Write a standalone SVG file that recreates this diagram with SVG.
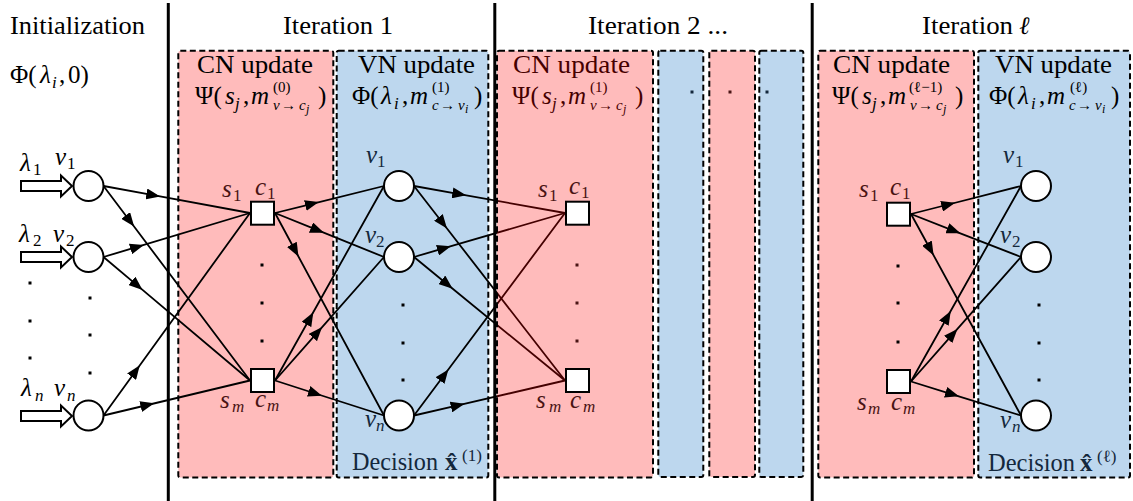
<svg xmlns="http://www.w3.org/2000/svg" width="1133" height="501" viewBox="0 0 1133 501">
<defs>
<marker id="ah" viewBox="0 0 14 11" refX="7" refY="5.5" markerWidth="14" markerHeight="11" markerUnits="userSpaceOnUse" orient="auto"><path d="M0,0 L14,5.5 L0,11 z" fill="#000"/></marker>
<style>
text{font-family:'Liberation Serif','DejaVu Serif',serif;fill:#000}
.t{font-size:25px}
.i{font-style:italic}
.u{font-style:normal}
.s{font-size:17px}
.f{font-size:15px}
.ss{font-size:12px}
.sep{stroke:#000;stroke-width:3}
.box{stroke:#000;stroke-width:2;stroke-dasharray:6 3.5;fill:none}
.pk{fill:#ffbbbb}
.bl{fill:#bdd7ee}
.ov{fill:#ff0000;fill-opacity:0.265}
.e{fill:none;stroke:#000;stroke-width:1.8;marker-mid:url(#ah)}
.node{fill:#fff;stroke:#000;stroke-width:2}
.dot{fill:#000}
.lp{fill:#4a1414}
.lb{fill:#14283c}
</style>
</defs>

<g id="separators">
<line class="sep" x1="168.3" y1="3" x2="168.3" y2="501"/>
<line class="sep" x1="494.8" y1="3" x2="494.8" y2="501"/>
<line class="sep" x1="812.2" y1="3" x2="812.2" y2="501"/>
</g>

<g id="boxes">
<rect class="pk" x="178.3" y="50.7" width="155" height="426.8" rx="2"/>
<rect class="box" x="178.3" y="50.7" width="155" height="426.8" rx="2"/>
<rect class="bl" x="336.7" y="50.7" width="151.6" height="426.8" rx="2"/>
<rect class="box" x="336.7" y="50.7" width="151.6" height="426.8" rx="2"/>
<rect class="bl" x="658.3" y="50.7" width="45" height="426.3" rx="2"/>
<rect class="box" x="658.3" y="50.7" width="45" height="426.3" rx="2"/>
<rect class="pk" x="709.3" y="50.7" width="45.7" height="426.3" rx="2"/>
<rect class="box" x="709.3" y="50.7" width="45.7" height="426.3" rx="2"/>
<rect class="bl" x="759.3" y="50.7" width="44" height="426.3" rx="2"/>
<rect class="box" x="759.3" y="50.7" width="44" height="426.3" rx="2"/>
<rect class="pk" x="818.3" y="50.7" width="155.7" height="426.8" rx="2"/>
<rect class="box" x="818.3" y="50.7" width="155.7" height="426.8" rx="2"/>
<rect class="bl" x="978.3" y="50.7" width="151.7" height="426.8" rx="2"/>
<rect class="box" x="978.3" y="50.7" width="151.7" height="426.8" rx="2"/>
<rect class="lb" x="690.5" y="90.5" width="3" height="3"/>
<rect class="lp" x="728.5" y="90.5" width="3" height="3"/>
<rect class="lb" x="765.5" y="90.5" width="3" height="3"/>
</g>

<g id="headers">
<text class="t" x="10" y="34" textLength="135" lengthAdjust="spacingAndGlyphs">Initialization</text>
<text class="t" y="83"><tspan x="10">Φ(</tspan><tspan x="40" class="i">λ</tspan><tspan x="52" y="88" class="s i">i</tspan><tspan x="59" y="83">,</tspan><tspan x="68">0)</tspan></text>
<text class="t" x="283" y="34" textLength="110" lengthAdjust="spacingAndGlyphs">Iteration 1</text>
<text class="t" x="588" y="34" textLength="140" lengthAdjust="spacingAndGlyphs">Iteration 2 ...</text>
<text class="t" x="922" y="34"><tspan textLength="91" lengthAdjust="spacingAndGlyphs">Iteration</tspan><tspan x="1019" class="i">ℓ</tspan></text>

<text class="t" x="197" y="73" textLength="116" lengthAdjust="spacingAndGlyphs">CN update</text>
<text class="t" y="104"><tspan x="195">Ψ(</tspan><tspan x="225" class="i">s</tspan><tspan x="235" y="109" class="s i">j</tspan><tspan x="243" y="104">,</tspan><tspan x="251" class="i">m</tspan><tspan x="273" y="92" class="f">(0)</tspan><tspan x="273" y="110" class="f i">v</tspan><tspan x="281" class="f">→</tspan><tspan x="299" class="f i">c</tspan><tspan x="306" y="113" class="ss i">j</tspan><tspan x="318" y="104">)</tspan></text>

<text class="t" x="358" y="73" textLength="117" lengthAdjust="spacingAndGlyphs">VN update</text>
<text class="t" y="104"><tspan x="352">Φ(</tspan><tspan x="381" class="i">λ</tspan><tspan x="394" y="109" class="s i">i</tspan><tspan x="402" y="104">,</tspan><tspan x="410" class="i">m</tspan><tspan x="432" y="92" class="f">(1)</tspan><tspan x="432" y="110" class="f i">c</tspan><tspan x="440" class="f">→</tspan><tspan x="458" class="f i">v</tspan><tspan x="465" y="113" class="ss i">i</tspan><tspan x="474" y="104">)</tspan></text>
<text class="t lb" x="352" y="470"><tspan textLength="86" lengthAdjust="spacingAndGlyphs">Decision</tspan><tspan x="445" font-weight="bold">x&#x302;</tspan><tspan x="462" y="461" class="s">(1)</tspan></text>

<text class="t" x="513" y="73" textLength="117" lengthAdjust="spacingAndGlyphs">CN update</text>
<text class="t" y="104"><tspan x="512">Ψ(</tspan><tspan x="542" class="i">s</tspan><tspan x="552" y="109" class="s i">j</tspan><tspan x="560" y="104">,</tspan><tspan x="568" class="i">m</tspan><tspan x="590" y="92" class="f">(1)</tspan><tspan x="590" y="110" class="f i">v</tspan><tspan x="598" class="f">→</tspan><tspan x="616" class="f i">c</tspan><tspan x="623" y="113" class="ss i">j</tspan><tspan x="635" y="104">)</tspan></text>

<text class="t" x="833" y="73" textLength="117" lengthAdjust="spacingAndGlyphs">CN update</text>
<text class="t" y="104"><tspan x="832">Ψ(</tspan><tspan x="862" class="i">s</tspan><tspan x="872" y="109" class="s i">j</tspan><tspan x="880" y="104">,</tspan><tspan x="888" class="i">m</tspan><tspan x="909" y="92" class="f">(ℓ−1)</tspan><tspan x="910" y="110" class="f i">v</tspan><tspan x="918" class="f">→</tspan><tspan x="936" class="f i">c</tspan><tspan x="943" y="113" class="ss i">j</tspan><tspan x="955" y="104">)</tspan></text>

<text class="t" x="995" y="73" textLength="117" lengthAdjust="spacingAndGlyphs">VN update</text>
<text class="t" y="104"><tspan x="989">Φ(</tspan><tspan x="1018" class="i">λ</tspan><tspan x="1031" y="109" class="s i">i</tspan><tspan x="1039" y="104">,</tspan><tspan x="1047" class="i">m</tspan><tspan x="1070" y="92" class="f">(ℓ)</tspan><tspan x="1069" y="110" class="f i">c</tspan><tspan x="1077" class="f">→</tspan><tspan x="1095" class="f i">v</tspan><tspan x="1102" y="113" class="ss i">i</tspan><tspan x="1111" y="104">)</tspan></text>
<text class="t lb" x="988" y="471"><tspan textLength="87" lengthAdjust="spacingAndGlyphs">Decision</tspan><tspan x="1080" font-weight="bold">x&#x302;</tspan><tspan x="1097" y="462" class="s">(ℓ)</tspan></text>
</g>

<g id="connectors">
<path class="e" d="M103.5,186 L153.3,195.2 L250,213"/>
<path class="e" d="M103.5,186 L129.9,221 L250,380.5"/>
<path class="e" d="M103.5,257 L137.2,246.9 L250,213"/>
<path class="e" d="M103.5,257 L137.2,285.4 L250,380.5"/>
<path class="e" d="M103.5,415.5 L135.7,371 L250,213"/>
<path class="e" d="M103.5,415.5 L147.5,405 L250,380.5"/>

<path class="e" d="M275,213 L312.1,203.8 L384,186"/>
<path class="e" d="M275,213 L317.5,230.2 L384,257"/>
<path class="e" d="M275,213 L295.2,250.5 L384,415.5"/>
<path class="e" d="M275,380.5 L309.9,318.3 L384,186"/>
<path class="e" d="M275,380.5 L317.5,332.3 L384,257"/>
<path class="e" d="M275,380.5 L315.3,393.5 L384,415.5"/>

<path class="e" d="M414,186 L459.3,194.1 L565,213"/>
<path class="e" d="M414,186 L442.7,223 L565,380.5"/>
<path class="e" d="M414,257 L444.2,248.2 L565,213"/>
<path class="e" d="M414,257 L447.2,284.2 L565,380.5"/>
<path class="e" d="M414,415.5 L444.2,375 L565,213"/>
<path class="e" d="M414,415.5 L457.8,405.4 L565,380.5"/>

<path class="e" d="M911,214 L948.4,204.5 L1021,186"/>
<path class="e" d="M911,214 L953.9,230.8 L1021,257"/>
<path class="e" d="M911,214 L930.3,249.3 L1021,415.5"/>
<path class="e" d="M911,381.5 L947.3,317 L1021,186"/>
<path class="e" d="M911,381.5 L952.8,334.2 L1021,257"/>
<path class="e" d="M911,381.5 L952.3,394.3 L1021,415.5"/>
</g>

<g id="iter2-cn-box">
<rect class="ov" x="497" y="50.7" width="156" height="426.8" rx="2"/>
<rect class="box" x="497" y="50.7" width="156" height="426.8" rx="2"/>
</g>

<g id="dots">
<rect class="dot" x="28.5" y="281.5" width="3" height="3"/>
<rect class="dot" x="28.5" y="319.5" width="3" height="3"/>
<rect class="dot" x="28.5" y="356.5" width="3" height="3"/>
<rect class="dot" x="88.5" y="296.5" width="3" height="3"/>
<rect class="dot" x="88.5" y="333.5" width="3" height="3"/>
<rect class="dot" x="88.5" y="371.5" width="3" height="3"/>
<rect class="dot" x="260.5" y="263.5" width="3" height="3"/>
<rect class="dot" x="260.5" y="301.5" width="3" height="3"/>
<rect class="dot" x="260.5" y="339.5" width="3" height="3"/>
<rect class="dot" x="401.5" y="303.5" width="3" height="3"/>
<rect class="dot" x="401.5" y="341.5" width="3" height="3"/>
<rect class="dot" x="401.5" y="378.5" width="3" height="3"/>
<rect class="lp" x="575.5" y="263.5" width="3" height="3"/>
<rect class="lp" x="575.5" y="301.5" width="3" height="3"/>
<rect class="lp" x="575.5" y="339.5" width="3" height="3"/>
<rect class="dot" x="896.5" y="264.5" width="3" height="3"/>
<rect class="dot" x="896.5" y="301.5" width="3" height="3"/>
<rect class="dot" x="896.5" y="340.5" width="3" height="3"/>
<rect class="dot" x="1037.5" y="303.5" width="3" height="3"/>
<rect class="dot" x="1037.5" y="341.5" width="3" height="3"/>
<rect class="dot" x="1037.5" y="378.5" width="3" height="3"/>
</g>

<g id="init-v1">
<polygon class="node" points="21,181 61,181 61,175.5 72,186 61,196.5 61,191 21,191"/>
<circle class="node" cx="88.5" cy="186" r="15"/>
<text class="t i" x="20" y="171">λ<tspan class="s u" x="33" y="175">1</tspan></text>
<text class="t i" x="55" y="165">v<tspan class="s u" x="67" y="169">1</tspan></text>
</g>
<g id="init-v2">
<polygon class="node" points="21,252 61,252 61,246.5 72,257 61,267.5 61,262 21,262"/>
<circle class="node" cx="88.5" cy="257" r="15"/>
<text class="t i" x="19" y="242">λ<tspan class="s u" x="33" y="246">2</tspan></text>
<text class="t i" x="53" y="242">v<tspan class="s u" x="66" y="246">2</tspan></text>
</g>
<g id="init-vn">
<polygon class="node" points="21,411 61,411 61,405.5 72,416 61,426.5 61,421 21,421"/>
<circle class="node" cx="88.5" cy="415.5" r="15"/>
<text class="t i" x="21" y="396">λ<tspan class="s" x="35" y="401">n</tspan></text>
<text class="t i" x="54" y="396">v<tspan class="s" x="67" y="401">n</tspan></text>
</g>

<g id="it1-c1">
<rect class="node" x="251" y="201.7" width="23" height="23"/>
<text class="t i lp" x="222" y="197">s<tspan class="s u" x="233" y="201">1</tspan></text>
<text class="t i lp" x="255" y="195">c<tspan class="s u" x="267" y="199">1</tspan></text>
</g>
<g id="it1-cm">
<rect class="node" x="251" y="369" width="23" height="23"/>
<text class="t i lp" x="220" y="408">s<tspan class="s" x="232" y="412">m</tspan></text>
<text class="t i lp" x="255" y="407">c<tspan class="s" x="267" y="411">m</tspan></text>
</g>
<g id="it1-v1">
<circle class="node" cx="399" cy="186" r="15"/>
<text class="t i lb" x="366" y="163">v<tspan class="s u" x="377" y="167">1</tspan></text>
</g>
<g id="it1-v2">
<circle class="node" cx="399" cy="257" r="15"/>
<text class="t i lb" x="365" y="243">v<tspan class="s u" x="376" y="247">2</tspan></text>
</g>
<g id="it1-vn">
<circle class="node" cx="399" cy="415.5" r="15"/>
<text class="t i lb" x="365" y="427">v<tspan class="s" x="376" y="431">n</tspan></text>
</g>

<g id="it2-c1">
<rect class="node" x="566" y="201.7" width="23" height="23"/>
<text class="t i lp" x="538" y="197">s<tspan class="s u" x="549" y="201">1</tspan></text>
<text class="t i lp" x="569" y="194">c<tspan class="s u" x="581" y="198">1</tspan></text>
</g>
<g id="it2-cm">
<rect class="node" x="566" y="369" width="23" height="23"/>
<text class="t i lp" x="536" y="408">s<tspan class="s" x="549" y="412">m</tspan></text>
<text class="t i lp" x="570" y="408">c<tspan class="s" x="583" y="412">m</tspan></text>
</g>

<g id="itl-c1">
<rect class="node" x="887" y="202.7" width="23" height="23"/>
<text class="t i lp" x="859" y="197">s<tspan class="s u" x="870" y="201">1</tspan></text>
<text class="t i lp" x="890" y="195">c<tspan class="s u" x="902" y="199">1</tspan></text>
</g>
<g id="itl-cm">
<rect class="node" x="887" y="370" width="23" height="23"/>
<text class="t i lp" x="857" y="410">s<tspan class="s" x="868" y="414">m</tspan></text>
<text class="t i lp" x="891" y="410">c<tspan class="s" x="903" y="414">m</tspan></text>
</g>
<g id="itl-v1">
<circle class="node" cx="1036" cy="186" r="15"/>
<text class="t i lb" x="1003" y="163">v<tspan class="s u" x="1015" y="167">1</tspan></text>
</g>
<g id="itl-v2">
<circle class="node" cx="1036" cy="257" r="15"/>
<text class="t i lb" x="1000" y="243">v<tspan class="s u" x="1012" y="247">2</tspan></text>
</g>
<g id="itl-vn">
<circle class="node" cx="1036" cy="415.5" r="15"/>
<text class="t i lb" x="1000" y="428">v<tspan class="s" x="1012" y="432">n</tspan></text>
</g>
</svg>
